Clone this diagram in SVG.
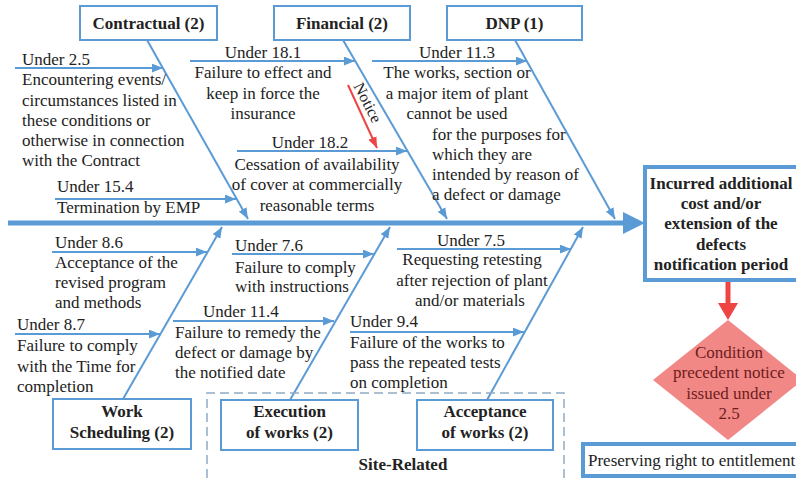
<svg xmlns="http://www.w3.org/2000/svg" width="796" height="478" viewBox="0 0 796 478">
<defs>
<marker id="ah" viewBox="0 0 10 8" refX="10" refY="4" markerWidth="11" markerHeight="9" markerUnits="userSpaceOnUse" orient="auto"><path d="M0,0 L10,4 L0,8 z" fill="#5b9bd5"/></marker>
<marker id="ahr" viewBox="0 0 10 8" refX="10" refY="4" markerWidth="11" markerHeight="9" markerUnits="userSpaceOnUse" orient="auto"><path d="M0,0 L10,4 L0,8 z" fill="#ee4444"/></marker>
</defs>
<style>
text{font-family:"Liberation Serif","Times New Roman",serif;font-size:17px;fill:#222}
.b{font-weight:bold}
.m{text-anchor:middle}
.box{fill:#fff;stroke:#5b9bd5;stroke-width:2}
.tbox{fill:#fff;stroke:#5b9bd5;stroke-width:4}
.ln{stroke:#5b9bd5;stroke-width:2;fill:none;marker-end:url(#ah)}
.dt{fill:#6e1c1c}
</style>
<rect width="796" height="478" fill="#fff"/>

<g id="connectors">
<line x1="8" y1="223" x2="626" y2="223" stroke="#5b9bd5" stroke-width="5"/>
<polygon points="623,212 645,223 623,234" fill="#5b9bd5"/>
<line class="ln" x1="147" y1="40" x2="248" y2="219"/>
<line class="ln" x1="343" y1="40" x2="447" y2="219"/>
<line class="ln" x1="515" y1="40" x2="615" y2="219"/>
<line class="ln" x1="123" y1="399" x2="222" y2="227"/>
<line class="ln" x1="290" y1="400" x2="390" y2="227"/>
<line class="ln" x1="487" y1="400" x2="583" y2="227"/>
<line class="ln" x1="15" y1="68" x2="163" y2="68"/>
<line class="ln" x1="55" y1="199" x2="236" y2="199"/>
<line class="ln" x1="190" y1="61" x2="355" y2="61"/>
<line class="ln" x1="237" y1="151" x2="407" y2="151"/>
<line class="ln" x1="372" y1="61" x2="527" y2="61"/>
<line class="ln" x1="52" y1="252" x2="207" y2="252"/>
<line class="ln" x1="15" y1="334" x2="160" y2="334"/>
<line class="ln" x1="232" y1="254" x2="374" y2="254"/>
<line class="ln" x1="173" y1="321" x2="334" y2="321"/>
<line class="ln" x1="397" y1="249" x2="571" y2="249"/>
<line class="ln" x1="350" y1="332" x2="524" y2="332"/>
<line x1="348" y1="85" x2="377" y2="148" stroke="#ee4444" stroke-width="2" marker-end="url(#ahr)"/>
<text x="363" y="105" transform="rotate(63 363 105)" class="m" style="font-size:16px">Notice</text>
<line x1="728" y1="281" x2="728" y2="305" stroke="#ee4444" stroke-width="5"/>
<polygon points="718,303 738,303 728,320" fill="#ee4444"/>
</g>

<g id="contractual">
<rect class="box" x="80" y="6" width="137" height="34"/>
<text class="b m" x="148.5" y="29">Contractual (2)</text>
<text x="22" y="65">Under 2.5</text>
<text x="22" y="85">Encountering events/</text>
<text x="22" y="106">circumstances listed in</text>
<text x="22" y="126">these conditions or</text>
<text x="22" y="146">otherwise in connection</text>
<text x="22" y="166">with the Contract</text>
<text x="57" y="192">Under 15.4</text>
<text x="57" y="213">Termination by EMP</text>
</g>

<g id="financial">
<rect class="box" x="274" y="6" width="136" height="34"/>
<text class="b m" x="342" y="29">Financial (2)</text>
<text class="m" x="263" y="58">Under 18.1</text>
<text class="m" x="263" y="78">Failure to effect and</text>
<text class="m" x="263" y="99">keep in force the</text>
<text class="m" x="263" y="119">insurance</text>
<text class="m" x="310" y="148">Under 18.2</text>
<text class="m" x="317" y="170">Cessation of availability</text>
<text class="m" x="317" y="190">of cover at commercially</text>
<text class="m" x="317" y="211">reasonable terms</text>
</g>

<g id="dnp">
<rect class="box" x="447" y="6" width="135" height="34"/>
<text class="b m" x="514.5" y="29">DNP (1)</text>
<text class="m" x="457" y="58">Under 11.3</text>
<text class="m" x="457" y="78">The works, section or</text>
<text class="m" x="457" y="99">a major item of plant</text>
<text class="m" x="457" y="119">cannot be used</text>
<text x="432" y="140">for the purposes for</text>
<text x="432" y="160">which they are</text>
<text x="432" y="180">intended by reason of</text>
<text x="432" y="200">a defect or damage</text>
</g>

<g id="outcome">
<rect class="tbox" x="645" y="167" width="160" height="113"/>
<text class="b m" x="721" y="189">Incurred additional</text>
<text class="b m" x="721" y="209">cost and/or</text>
<text class="b m" x="721" y="229">extension of the</text>
<text class="b m" x="721" y="250">defects</text>
<text class="b m" x="721" y="270">notification period</text>
</g>

<g id="condition">
<polygon points="728,320 803,380 728,440 653,380" fill="#f28886"/>
<text class="m dt" x="729" y="358">Condition</text>
<text class="m dt" x="729" y="378">precedent notice</text>
<text class="m dt" x="729" y="399">issued under</text>
<text class="m dt" x="729" y="419">2.5</text>
</g>

<g id="preserving">
<rect class="tbox" x="583" y="444" width="220" height="32"/>
<text x="588" y="466">Preserving right to entitlement</text>
</g>

<g id="work-scheduling">
<rect class="box" x="53" y="399" width="138" height="50"/>
<text class="b m" x="122" y="417">Work</text>
<text class="b m" x="122" y="438">Scheduling (2)</text>
<text x="55" y="248">Under 8.6</text>
<text x="55" y="268">Acceptance of the</text>
<text x="55" y="288">revised program</text>
<text x="55" y="308">and methods</text>
<text x="17" y="330">Under 8.7</text>
<text x="17" y="351">Failure to comply</text>
<text x="17" y="372">with the Time for</text>
<text x="17" y="392">completion</text>
</g>

<g id="site-related">
<path d="M207,478 V393 H564 V478" fill="none" stroke="#8eaac4" stroke-width="1.5" stroke-dasharray="9 5"/>
<text class="b m" x="403" y="470">Site-Related</text>
</g>

<g id="execution">
<rect class="box" x="221" y="400" width="137" height="50"/>
<text class="b m" x="289.5" y="417">Execution</text>
<text class="b m" x="289.5" y="438">of works (2)</text>
<text x="235" y="251">Under 7.6</text>
<text x="235" y="273">Failure to comply</text>
<text x="235" y="292">with instructions</text>
<text x="203" y="317">Under 11.4</text>
<text x="175" y="338">Failure to remedy the</text>
<text x="175" y="358">defect or damage by</text>
<text x="175" y="378">the notified date</text>
</g>

<g id="acceptance">
<rect class="box" x="417" y="400" width="136" height="50"/>
<text class="b m" x="485" y="417">Acceptance</text>
<text class="b m" x="485" y="438">of works (2)</text>
<text class="m" x="471" y="246">Under 7.5</text>
<text class="m" x="472" y="265">Requesting retesting</text>
<text class="m" x="472" y="286">after rejection of plant</text>
<text class="m" x="470" y="306">and/or materials</text>
<text x="350" y="327">Under 9.4</text>
<text x="350" y="348">Failure of the works to</text>
<text x="350" y="368">pass the repeated tests</text>
<text x="350" y="388">on completion</text>
</g>
</svg>
